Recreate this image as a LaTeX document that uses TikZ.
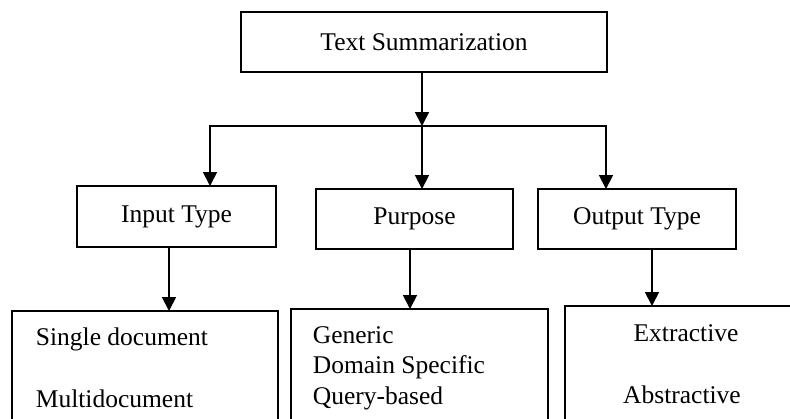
\documentclass[tikz,border=0pt]{standalone}
\usepackage{fontspec}
\setmainfont{Liberation Serif}
\usetikzlibrary{arrows.meta}
\begin{document}
\begin{tikzpicture}[x=1pt,y=-1pt,
  line width=1.8pt,
  every node/.style={font=\fontsize{25.5}{30.5}\selectfont},
  box/.style={draw, rectangle, inner sep=0pt, outer sep=0pt},
  txt/.style={inner sep=0pt},
  arr/.style={-{Triangle[length=14pt,width=14pt]}}]
\useasboundingbox (0,0) rectangle (790,418);
\clip (0,0) rectangle (790,418);

% root of the tree
\node[box, minimum width=366pt, minimum height=60pt] (root) at (424,42) {Text Summarization};

% three criteria
\node[box, minimum width=199pt, minimum height=61pt] (input)   at (176.5,216.5) {Input Type};
\node[box, minimum width=197pt, minimum height=60pt] (purpose) at (414.5,219)   {Purpose};
\node[box, minimum width=198pt, minimum height=60pt] (output)  at (637,219)     {Output Type};

% lists of kinds (running past the lower edge)
\node[box, anchor=north west, minimum width=266pt, minimum height=200pt] (inlist)   at (12,311)  {};
\node[box, anchor=north west, minimum width=257pt, minimum height=200pt] (purplist) at (291,309) {};
\node[box, anchor=north west, minimum width=260pt, minimum height=200pt] (outlist)  at (565,306) {};

\node[txt, anchor=base west] (single) at (35,345)  {Single document};
\node[txt, anchor=base west] (multi)  at (35,407)  {Multidocument};

\node[txt, anchor=base west] (generic) at (312,343)   {Generic};
\node[txt, anchor=base west] (domain)  at (312,373.5) {Domain Specific};
\node[txt, anchor=base west] (query)   at (312,404)   {Query-based};

\node[txt, anchor=base] (extract)  at (686,341) {Extractive};
\node[txt, anchor=base] (abstract) at (682,403) {Abstractive};

% distribution bar
\coordinate (hub)  at (422,126);
\coordinate (barL) at (210,126);
\coordinate (barR) at (607,126);
\coordinate (barO) at (606,126);

\draw[arr] (root.south -| hub) -- (hub);
\draw[arr] (barR) -- (barL) -- (barL |- input.north);
\draw[arr] (hub) -- (hub |- purpose.north);
\draw[arr] (barO) -- (barO |- output.north);

% criteria to lists
\draw[arr] ([xshift=-7.5pt]input.south)  -- ([xshift=-7.5pt]input.south |- inlist.north);
\draw[arr] ([xshift=-4.5pt]purpose.south) -- ([xshift=-4.5pt]purpose.south |- purplist.north);
\draw[arr] ([xshift=15pt]output.south)   -- ([xshift=15pt]output.south |- outlist.north);
\end{tikzpicture}
\end{document}
